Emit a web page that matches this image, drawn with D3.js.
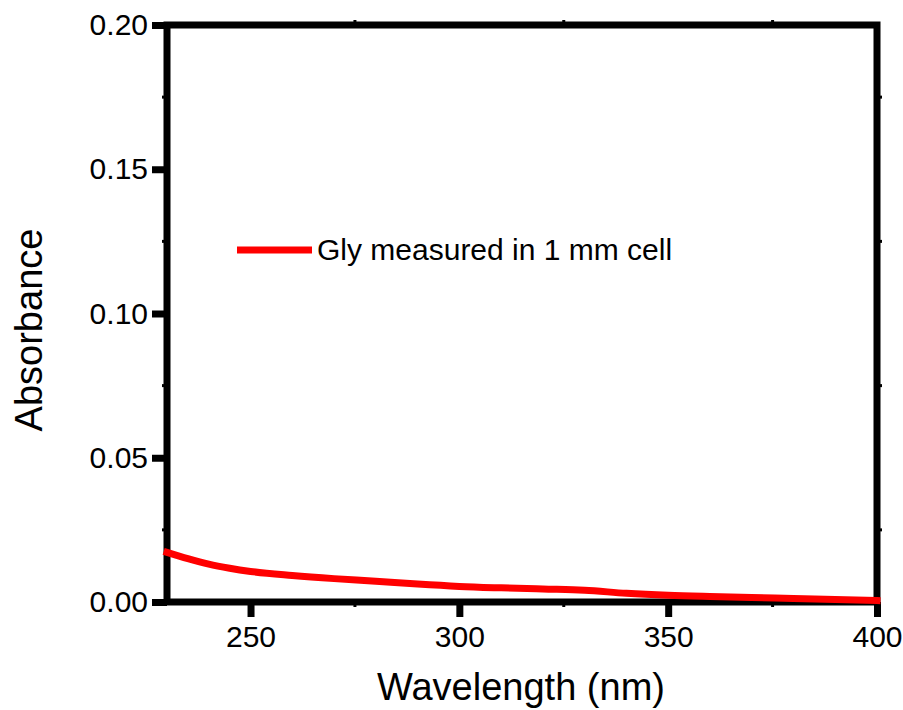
<!DOCTYPE html>
<html>
<head>
<meta charset="utf-8">
<style>
body { margin: 0; background: #fff; }
text { font-family: "Liberation Sans", Arial, sans-serif; }
</style>
</head>
<body>
<svg width="903" height="710"></svg>
<script src="https://cdn.jsdelivr.net/npm/d3@7"></script>
<script>

var wavelength = [230, 235, 240, 245, 250, 260, 270, 280, 290, 300, 310, 320, 330, 340, 350, 360, 370, 380, 390, 400];
var absorbance = [0.0172, 0.0150, 0.0131, 0.0117, 0.0106, 0.0092, 0.0081, 0.0072, 0.0062, 0.0054, 0.0049, 0.0045, 0.0041, 0.0030, 0.0023, 0.0019, 0.0016, 0.0012, 0.0009, 0.0005];
var xTicks = [250, 300, 350, 400];
var yTicks = [0.00, 0.05, 0.10, 0.15, 0.20];
var seriesName = "Gly measured in 1 mm cell";

var svg = d3.select("svg"),
    margin = {top: 25, right: 26, bottom: 108, left: 167},
    width = +svg.attr("width") - margin.left - margin.right,
    height = +svg.attr("height") - margin.top - margin.bottom,
    g = svg.append("g").attr("transform", "translate(" + margin.left + "," + margin.top + ")");

var x = d3.scaleLinear().domain([230, 400]).range([0, width]);
var y = d3.scaleLinear().domain([0, 0.2]).range([height, 0]);

// minor ticks
var xMinor = [275, 325, 375];
var yMinor = [0.025, 0.075, 0.125, 0.175];

function styleAxis(sel) {
  sel.attr("font-size", null).attr("font-family", null);
  sel.select(".domain").remove();
  sel.selectAll(".tick line").attr("stroke", "#000").attr("stroke-width", 7);
  sel.selectAll(".tick text").style("font-size", "30px").attr("fill", "#000");
}

g.append("g")
    .attr("transform", "translate(0," + height + ")")
    .call(d3.axisBottom(x).tickValues(xTicks).tickSize(15).tickPadding(9).tickFormat(d3.format("d")))
    .call(styleAxis);

g.append("g")
    .call(d3.axisLeft(y).tickValues(yTicks).tickSize(15).tickPadding(4).tickFormat(d3.format(".2f")))
    .call(styleAxis);

// minor tick bumps
function minor(data, x1, x2, y1, y2) {
  g.append("g").selectAll("line").data(data).enter().append("line")
      .attr("x1", x1).attr("x2", x2).attr("y1", y1).attr("y2", y2)
      .attr("stroke", "#000").attr("stroke-width", 3);
}
minor(xMinor, x, x, height, height + 5);
minor(xMinor, x, x, 0, -5);
minor(yMinor, 0, -5, y, y);
minor(yMinor, width, width + 5, y, y);

// frame
g.append("rect")
    .attr("x", 0).attr("y", 0)
    .attr("width", width).attr("height", height)
    .attr("fill", "none")
    .attr("stroke", "#000")
    .attr("stroke-width", 7);

var line = d3.line()
    .x(function(d, i) { return x(wavelength[i]); })
    .y(function(d) { return y(d); })
    .curve(d3.curveMonotoneX);

g.append("path")
    .datum(absorbance)
    .attr("fill", "none")
    .attr("stroke", "#ff0000")
    .attr("stroke-width", 7)
    .attr("stroke-linecap", "square")
    .attr("d", line);

// legend
var legend = g.append("g").attr("transform", "translate(" + (237 - margin.left) + "," + (250 - margin.top) + ")");
legend.append("line")
    .attr("x1", 0).attr("x2", 75)
    .attr("stroke", "#ff0000").attr("stroke-width", 7);
legend.append("text")
    .attr("x", 80).attr("y", 10)
    .style("font-size", "30px")
    .attr("fill", "#000")
    .text(seriesName);

// axis titles
svg.append("text")
    .attr("x", 521)
    .attr("y", 700)
    .attr("text-anchor", "middle")
    .style("font-size", "38px")
    .attr("fill", "#000")
    .text("Wavelength (nm)");

svg.append("text")
    .attr("transform", "translate(42,330) rotate(-90)")
    .attr("text-anchor", "middle")
    .style("font-size", "38px")
    .attr("fill", "#000")
    .text("Absorbance");

</script>
</body>
</html>
